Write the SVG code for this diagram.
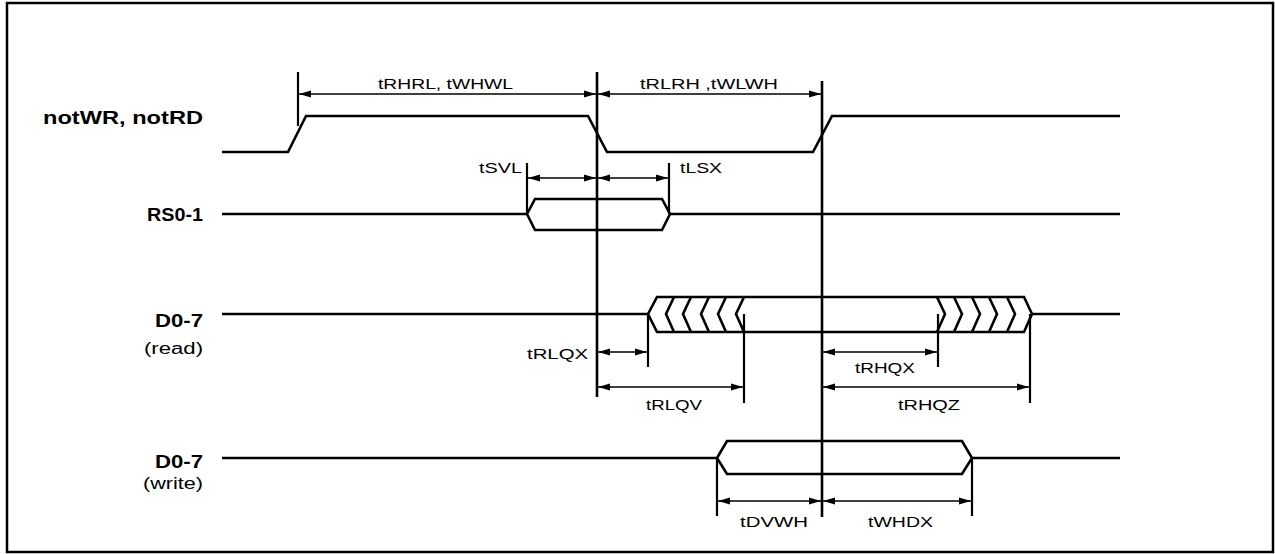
<svg xmlns="http://www.w3.org/2000/svg" width="1275" height="554" viewBox="0 0 1275 554">
<defs>
<style>
.sig{fill:none;stroke:#000;stroke-width:2.6;stroke-linejoin:miter}
.vl{stroke:#000;stroke-width:2.6}
.tk{stroke:#000;stroke-width:2.2}
.dim{stroke:#000;stroke-width:1.7;marker-start:url(#ah);marker-end:url(#ah)}
.lbl{font-family:"Liberation Sans",Arial,sans-serif;font-size:18px;font-weight:bold;fill:#000}
.sub{font-family:"Liberation Sans",Arial,sans-serif;font-size:16px;fill:#000}
.t{font-family:"Liberation Sans",Arial,sans-serif;font-size:15px;fill:#000}
</style>
<marker id="ah" viewBox="0 0 12 8" refX="12" refY="4" markerWidth="12" markerHeight="8" markerUnits="userSpaceOnUse" orient="auto-start-reverse">
<path d="M0,0.5 L12,4 L0,7.5 Z" fill="#000"/>
</marker>
</defs>
<rect x="7" y="3" width="1266" height="549" fill="#fff" stroke="#000" stroke-width="2.5"/>

<g id="notWR">
<text class="lbl" x="203" y="124" text-anchor="end" textLength="160" lengthAdjust="spacingAndGlyphs">notWR, notRD</text>
<path class="sig" d="M222,152 H288 L306,116 H588 L607,152 H813 L832,116 H1120"/>
</g>

<g id="RS0-1">
<text class="lbl" x="203" y="221" text-anchor="end" textLength="56" lengthAdjust="spacingAndGlyphs">RS0-1</text>
<path class="sig" d="M222,214 H527 M1120,214 H670"/>
<path class="sig" d="M527,214 L535,199 H662 L670,214 L662,230 H535 Z"/>
</g>

<g id="D0-7-read">
<text class="lbl" x="203" y="327" text-anchor="end" textLength="48" lengthAdjust="spacingAndGlyphs">D0-7</text>
<text class="sub" x="203" y="354" text-anchor="end" textLength="59" lengthAdjust="spacingAndGlyphs">(read)</text>
<path class="sig" d="M222,314 H648 M1032,314 H1120"/>
<path class="sig" d="M648,314 L657,297 H1024 L1032,314 L1024,332 H657 Z"/>
<path class="sig" d="M674,297 L666,314 L674,332 M691,297 L683,314 L691,332 M709,297 L701,314 L709,332 M726,297 L718,314 L726,332 M744,297 L736,314 L744,332"/>
<path class="sig" d="M937,297 L945,314 L937,332 M954,297 L962,314 L954,332 M972,297 L980,314 L972,332 M989,297 L997,314 L989,332 M1007,297 L1015,314 L1007,332"/>
</g>

<g id="D0-7-write">
<text class="lbl" x="203" y="468" text-anchor="end" textLength="48" lengthAdjust="spacingAndGlyphs">D0-7</text>
<text class="sub" x="203" y="489" text-anchor="end" textLength="60" lengthAdjust="spacingAndGlyphs">(write)</text>
<path class="sig" d="M222,458 H717 M972,458 H1120"/>
<path class="sig" d="M717,458 L727,441 H962 L972,458 L962,474 H727 Z"/>
</g>

<g id="connectors">
<line class="vl" x1="597" y1="72" x2="597" y2="397"/>
<line class="vl" x1="822" y1="81" x2="822" y2="517"/>
<line class="tk" x1="298" y1="72" x2="298" y2="126"/>
<line class="tk" x1="527" y1="163" x2="527" y2="214"/>
<line class="tk" x1="669" y1="163" x2="669" y2="214"/>
<line class="tk" x1="648" y1="314" x2="648" y2="367"/>
<line class="tk" x1="744" y1="314" x2="744" y2="403"/>
<line class="tk" x1="938" y1="314" x2="938" y2="367"/>
<line class="tk" x1="1030" y1="314" x2="1030" y2="403"/>
<line class="tk" x1="717" y1="458" x2="717" y2="516"/>
<line class="tk" x1="972" y1="458" x2="972" y2="516"/>

<line class="dim" x1="299" y1="94" x2="596" y2="94"/>
<line class="dim" x1="598" y1="94" x2="821" y2="94"/>
<line class="dim" x1="528" y1="178" x2="596" y2="178"/>
<line class="dim" x1="598" y1="178" x2="668" y2="178"/>
<line class="dim" x1="598" y1="352" x2="647" y2="352"/>
<line class="dim" x1="598" y1="387" x2="743" y2="387"/>
<line class="dim" x1="823" y1="352" x2="937" y2="352"/>
<line class="dim" x1="823" y1="387" x2="1029" y2="387"/>
<line class="dim" x1="718" y1="501" x2="821" y2="501"/>
<line class="dim" x1="823" y1="501" x2="971" y2="501"/>
</g>

<g id="labels">
<text class="t" x="378" y="89" textLength="135" lengthAdjust="spacingAndGlyphs">tRHRL, tWHWL</text>
<text class="t" x="640" y="89" textLength="138" lengthAdjust="spacingAndGlyphs">tRLRH ,tWLWH</text>
<text class="t" x="479" y="173" textLength="43" lengthAdjust="spacingAndGlyphs">tSVL</text>
<text class="t" x="680" y="173" textLength="42" lengthAdjust="spacingAndGlyphs">tLSX</text>
<text class="t" x="527" y="359" textLength="61" lengthAdjust="spacingAndGlyphs">tRLQX</text>
<text class="t" x="646" y="410" textLength="56" lengthAdjust="spacingAndGlyphs">tRLQV</text>
<text class="t" x="855" y="373" textLength="60" lengthAdjust="spacingAndGlyphs">tRHQX</text>
<text class="t" x="898" y="410" textLength="62" lengthAdjust="spacingAndGlyphs">tRHQZ</text>
<text class="t" x="740" y="527" textLength="68" lengthAdjust="spacingAndGlyphs">tDVWH</text>
<text class="t" x="868" y="527" textLength="65" lengthAdjust="spacingAndGlyphs">tWHDX</text>
</g>
</svg>
